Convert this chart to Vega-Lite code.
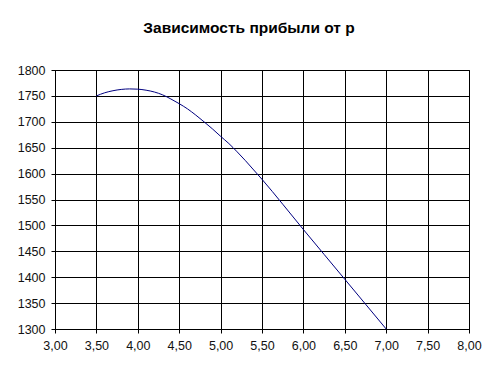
{
  "$schema": "https://vega.github.io/schema/vega-lite/v6.json",
  "autosize": "none",
  "width": 414,
  "height": 259,
  "padding": {"left": 55, "top": 70, "right": 30, "bottom": 46},
  "background": "white",
  "title": {
    "text": "Зависимость прибыли от p",
    "font": "Liberation Sans",
    "fontSize": 15.5,
    "fontWeight": "bold",
    "color": "#000",
    "frame": "group",
    "anchor": "middle",
    "dx": -13,
    "offset": 28
  },
  "config": {
    "view": {"stroke": "black", "strokeWidth": 1},
    "axis": {
      "grid": true,
      "gridColor": "black",
      "gridOpacity": 1,
      "gridWidth": 1,
      "domainColor": "black",
      "domainWidth": 1,
      "tickColor": "black",
      "tickSize": 4,
      "tickWidth": 1,
      "labelFont": "Liberation Sans",
      "labelFontSize": 12.5,
      "labelColor": "#111",
      "labelFlush": false,
      "labelOverlap": false,
      "labelBound": false,
      "title": null
    }
  },
  "data": {
    "values": [
      {"p": 3.5, "profit": 1750},
      {"p": 3.6, "profit": 1756},
      {"p": 3.7, "profit": 1760},
      {"p": 3.8, "profit": 1762.5},
      {"p": 3.9, "profit": 1763.5},
      {"p": 4.0, "profit": 1763},
      {"p": 4.1, "profit": 1761},
      {"p": 4.2, "profit": 1757.5},
      {"p": 4.3, "profit": 1752},
      {"p": 4.4, "profit": 1744},
      {"p": 4.5, "profit": 1735},
      {"p": 4.6, "profit": 1725},
      {"p": 4.7, "profit": 1713},
      {"p": 4.8, "profit": 1700},
      {"p": 4.9, "profit": 1686.5},
      {"p": 5.0, "profit": 1672},
      {"p": 5.1, "profit": 1658},
      {"p": 5.2, "profit": 1642},
      {"p": 5.3, "profit": 1625},
      {"p": 5.4, "profit": 1607},
      {"p": 5.5, "profit": 1589},
      {"p": 5.75, "profit": 1541},
      {"p": 6.0, "profit": 1492},
      {"p": 6.25, "profit": 1444},
      {"p": 6.5, "profit": 1396},
      {"p": 6.75, "profit": 1348},
      {"p": 7.0, "profit": 1300}
    ]
  },
  "mark": {"type": "line", "color": "#000080", "strokeWidth": 1, "interpolate": "monotone"},
  "encoding": {
    "x": {
      "field": "p",
      "type": "quantitative",
      "scale": {"domain": [3, 8], "nice": false, "zero": false},
      "axis": {
        "values": [3, 3.5, 4, 4.5, 5, 5.5, 6, 6.5, 7, 7.5, 8],
        "labelExpr": "replace(format(datum.value, '.2f'), '.', ',')",
        "labelPadding": 6
      }
    },
    "y": {
      "field": "profit",
      "type": "quantitative",
      "scale": {"domain": [1300, 1800], "nice": false, "zero": false},
      "axis": {
        "values": [1300, 1350, 1400, 1450, 1500, 1550, 1600, 1650, 1700, 1750, 1800],
        "format": "d",
        "labelPadding": 6
      }
    }
  }
}
